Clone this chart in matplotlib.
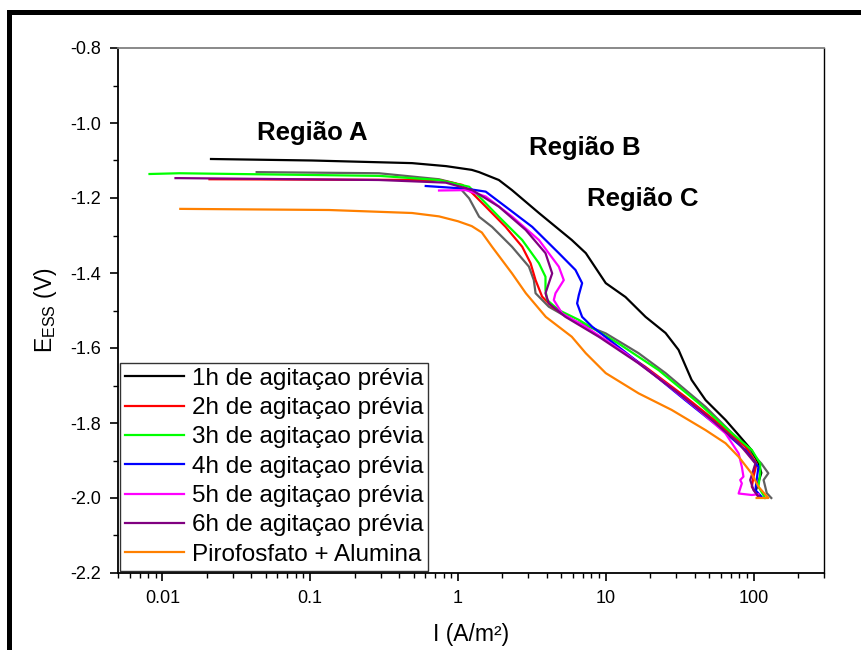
import numpy as np
import matplotlib
matplotlib.use('Agg')
import matplotlib.pyplot as plt
from matplotlib.lines import Line2D
from matplotlib.ticker import MultipleLocator, LogLocator, NullFormatter, FixedLocator, FixedFormatter

plt.rcParams['font.family'] = ['Liberation Sans', 'DejaVu Sans']
plt.rcParams['mathtext.fontset'] = 'custom'
plt.rcParams['mathtext.rm'] = 'Liberation Sans'

# curves: I (A/m2), E (V)
i_1h = [0.0213, 0.103, 0.489, 0.83, 1.24, 1.39, 1.89, 2.32, 3.53, 5.89, 7.33, 10.0, 13.6, 18.6,
        25.4, 31.1, 38.1, 47.4, 64.7, 79.3, 96.9, 108, 113, 103, 108]
e_1h = [-1.096, -1.100, -1.107, -1.115, -1.125, -1.131, -1.152, -1.179, -1.240, -1.312, -1.347, -1.427,
        -1.464, -1.517, -1.560, -1.605, -1.685, -1.739, -1.792, -1.832, -1.872, -1.907, -1.933, -1.984, -1.997]

i_2h = [0.0208, 0.744, 1.07, 1.25, 1.54, 2.10, 2.72, 3.10, 3.35, 3.71, 4.34, 5.92, 9.95, 18.5,
        34.5, 58.0, 87.9, 105, 100, 97.4, 108]
e_2h = [-1.150, -1.152, -1.165, -1.187, -1.223, -1.277, -1.330, -1.374, -1.419, -1.463, -1.490, -1.525,
        -1.579, -1.650, -1.730, -1.801, -1.863, -1.908, -1.943, -1.970, -1.996]

i_3h = [0.00817, 0.0130, 0.292, 0.744, 1.19, 1.39, 1.89, 2.72, 3.53, 3.91, 3.91, 4.01, 4.81, 6.57,
        12.2, 22.8, 42.5, 71.3, 97.4, 111, 111, 108, 120]
e_3h = [-1.136, -1.134, -1.141, -1.152, -1.170, -1.196, -1.250, -1.312, -1.374, -1.410, -1.445, -1.472,
        -1.499, -1.525, -1.588, -1.659, -1.747, -1.827, -1.872, -1.908, -1.934, -1.970, -2.000]

i_4h = [0.605, 1.02, 1.13, 1.54, 2.10, 3.18, 4.81, 6.24, 6.92, 6.57, 6.40, 6.92, 8.08, 12.2, 20.6,
        34.5, 58.0, 87.9, 108, 105, 103, 113]
e_4h = [-1.168, -1.174, -1.175, -1.183, -1.223, -1.277, -1.347, -1.392, -1.427, -1.459, -1.481, -1.517,
        -1.543, -1.597, -1.667, -1.739, -1.810, -1.872, -1.917, -1.952, -1.979, -1.996]

i_5h = [0.744, 1.13, 1.54, 2.33, 3.53, 4.81, 5.20, 4.57, 4.45, 5.07, 7.29, 13.6, 25.3, 42.5, 64.4,
        79.3, 83.4, 85.5, 81.3, 83.4, 79.3, 97.4, 108]
e_5h = [-1.180, -1.179, -1.196, -1.250, -1.312, -1.383, -1.419, -1.454, -1.472, -1.508, -1.543, -1.614,
        -1.694, -1.765, -1.827, -1.881, -1.917, -1.943, -1.952, -1.961, -1.988, -1.992, -1.990]

i_6h = [0.01225, 0.0130, 0.292, 0.826, 1.25, 1.89, 2.87, 3.91, 4.34, 4.12, 3.91, 4.12, 5.34, 8.97,
        16.7, 31.1, 52.3, 79.3, 103, 95.0, 100, 108]
e_6h = [-1.147, -1.147, -1.152, -1.159, -1.179, -1.223, -1.285, -1.347, -1.401, -1.427, -1.454, -1.481,
        -1.517, -1.570, -1.641, -1.721, -1.792, -1.854, -1.908, -1.952, -1.979, -1.996]

i_piro = [0.0132, 0.134, 0.489, 0.744, 1.0, 1.24, 1.45, 1.70, 2.32, 2.88, 3.93, 5.89, 7.33, 10.0,
          16.7, 27.9, 47.4, 64.7, 79.3, 96.9, 108, 126, 105]
e_piro = [-1.229, -1.232, -1.240, -1.249, -1.262, -1.275, -1.292, -1.330, -1.401, -1.454, -1.517, -1.570,
          -1.614, -1.667, -1.721, -1.765, -1.819, -1.854, -1.890, -1.934, -1.970, -2.000, -2.000]

# gray curve, not in the legend
i_gray = [0.0434, 0.292, 0.744, 0.965, 1.19, 1.39, 1.70, 2.32, 3.02, 3.26, 3.35, 4.12, 5.89, 10.0,
          16.7, 25.4, 34.7, 47.4, 64.7, 88.3, 113, 126, 117, 123, 132]
e_gray = [-1.131, -1.134, -1.150, -1.161, -1.201, -1.250, -1.277, -1.330, -1.383, -1.419, -1.454, -1.490,
          -1.525, -1.561, -1.614, -1.667, -1.712, -1.757, -1.810, -1.863, -1.908, -1.934, -1.952, -1.987, -2.000]

series = [
    (i_1h, e_1h, '#000000', '1h de agitaçao prévia'),
    (i_2h, e_2h, '#FF0000', '2h de agitaçao prévia'),
    (i_3h, e_3h, '#00FF00', '3h de agitaçao prévia'),
    (i_4h, e_4h, '#0000FF', '4h de agitaçao prévia'),
    (i_5h, e_5h, '#FF00FF', '5h de agitaçao prévia'),
    (i_6h, e_6h, '#800080', '6h de agitaçao prévia'),
    (i_piro, e_piro, '#FF8000', 'Pirofosfato + Alumina'),
]

regions = ['Região A', 'Região B', 'Região C']
region_x = [0.0438, 3.02, 7.44]
region_y = [-1.027, -1.067, -1.203]

fig = plt.figure(figsize=(8.62, 6.5), dpi=100)
ax = fig.add_axes([118 / 862, 77 / 650, 706 / 862, 525 / 650])

ax.plot(i_gray, e_gray, color='#606060', lw=1.6, label='_nolegend_')
for xs, ys, c, lab in series:
    ax.plot(xs, ys, color=c, lw=1.6, label=lab)

ax.set_xscale('log')
ax.set_xlim(0.005, 300)
ax.set_ylim(-2.2, -0.8)

ax.xaxis.set_major_locator(FixedLocator([0.01, 0.1, 1, 10, 100]))
ax.xaxis.set_major_formatter(FixedFormatter(['0.01', '0.1', '1', '10', '100']))
ax.xaxis.set_minor_locator(LogLocator(base=10, subs=np.arange(2, 10), numticks=20))
ax.xaxis.set_minor_formatter(NullFormatter())
ax.yaxis.set_major_locator(MultipleLocator(0.2))
ax.yaxis.set_minor_locator(MultipleLocator(0.1))
ax.yaxis.set_major_formatter(matplotlib.ticker.FormatStrFormatter('%.1f'))

ax.tick_params(which='major', direction='out', length=6, width=1.2, labelsize=13, pad=6)
ax.tick_params(which='minor', direction='out', length=3.5, width=1.0)
ax.tick_params(top=False, right=False, which='both')

for s in ['left', 'bottom']:
    ax.spines[s].set_linewidth(1.3)
ax.spines['top'].set_color('#808080')
ax.spines['top'].set_linewidth(1.3)
ax.spines['right'].set_linewidth(1.0)

ax.set_xlabel('I (A/m²)', fontsize=16.5, labelpad=12)
ax.set_ylabel(r'E$_{\mathrm{ESS}}$ (V)', fontsize=16.5, labelpad=8)

for t, x, y in zip(regions, region_x, region_y):
    ax.text(x, y, t, fontsize=18.5, fontweight='bold', ha='left', va='center')

leg = ax.legend(loc='lower left', fontsize=17.5, frameon=True, fancybox=False,
                edgecolor='black', borderaxespad=0.1, handlelength=2.4, handletextpad=0.35,
                labelspacing=0.3, borderpad=0.2)
leg.get_frame().set_linewidth(1.0)
for h in leg.get_lines():
    h.set_linewidth(1.6)

# outer frame (left and top edges)
fig.add_artist(Line2D([9 / 862, 9 / 862], [0, 1 - 12 / 650], transform=fig.transFigure,
                      color='black', lw=3.6, solid_capstyle='projecting'))
fig.add_artist(Line2D([9 / 862, 1], [1 - 12 / 650, 1 - 12 / 650], transform=fig.transFigure,
                      color='black', lw=3.6, solid_capstyle='projecting'))

fig.savefig('out.png', dpi=100)
